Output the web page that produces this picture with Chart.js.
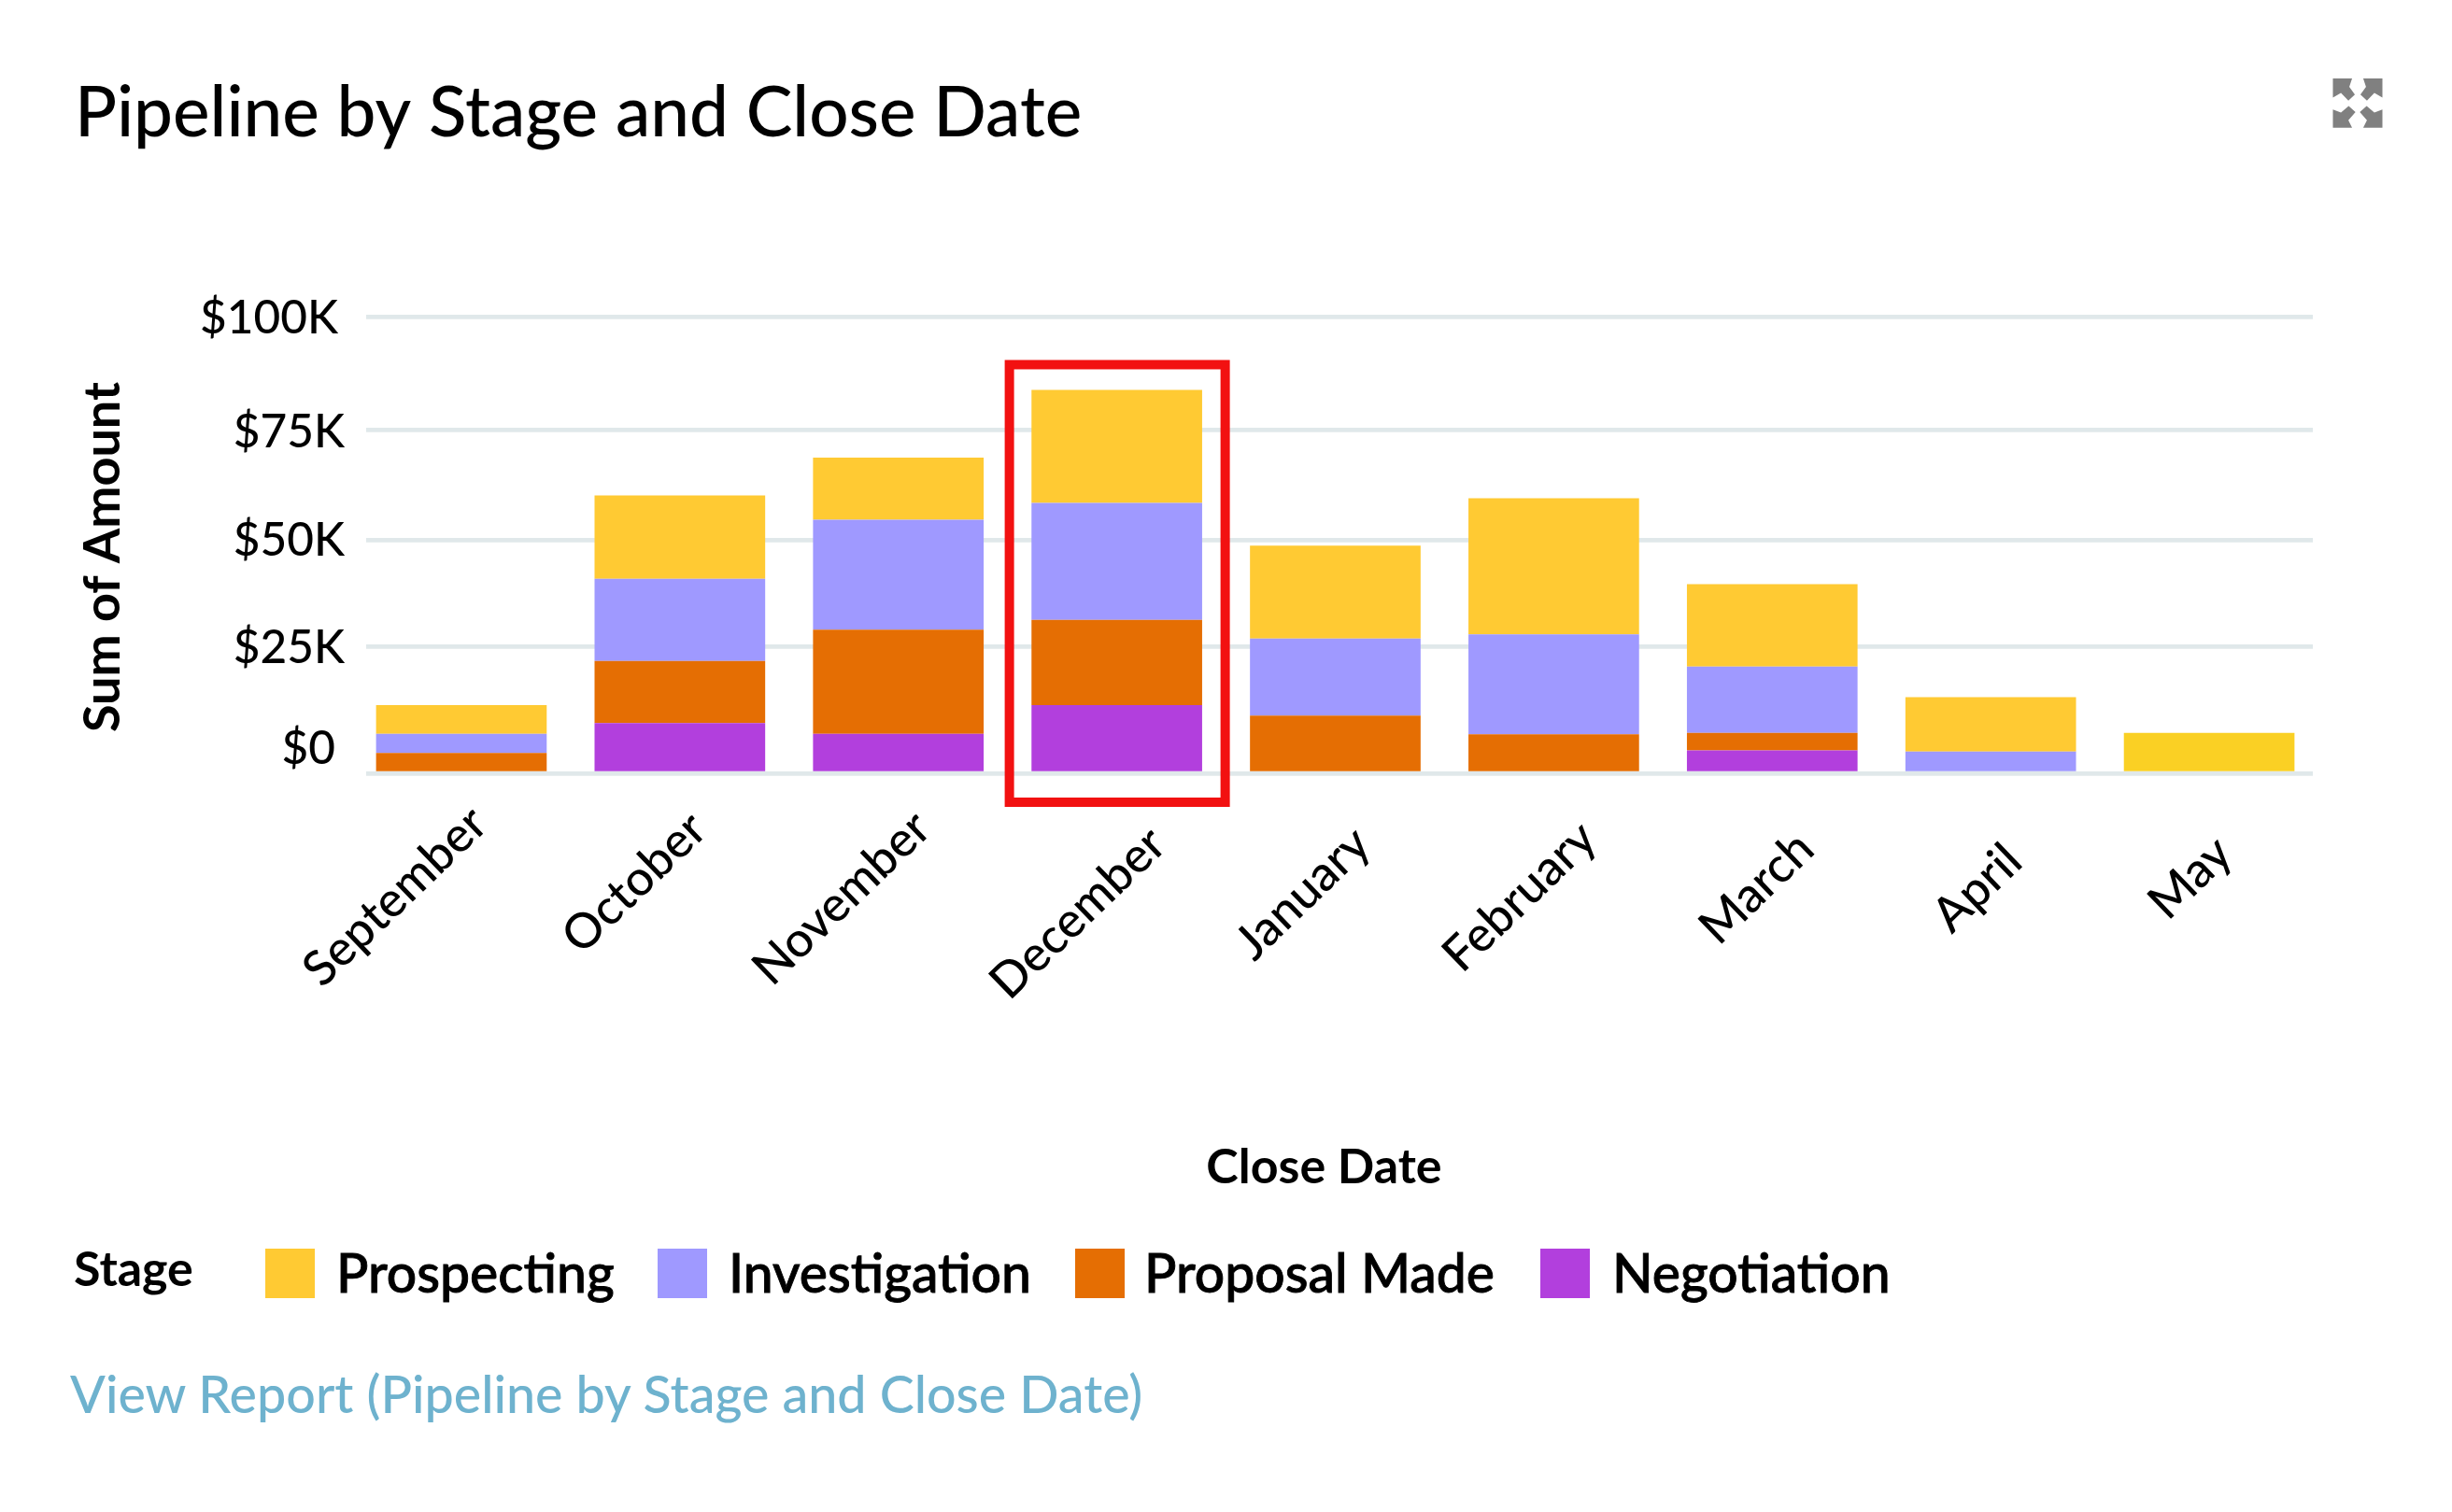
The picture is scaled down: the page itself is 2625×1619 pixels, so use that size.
<!DOCTYPE html>
<html>
<head>
<meta charset="utf-8">
<title>Pipeline by Stage and Close Date</title>
<script src="https://cdn.jsdelivr.net/npm/chart.js@4/dist/chart.umd.min.js"></script>
<style>
    html, body { margin: 0; padding: 0; background: #fff; }
    body { width: 2625px; height: 1619px; position: relative; overflow: hidden; font-family: Lato, sans-serif; color: #000; }
    canvas { position: absolute; left: 0; top: 0; }
    .stage { position: absolute; left: 79px; top: 1327px; font-size: 52px; font-weight: 700; line-height: 60px; }
    .caixa { position: absolute; top: 1337px; width: 53px; height: 53px; }
    .nome { position: absolute; top: 1329px; font-family: "Lato Medium", Lato, sans-serif; font-size: 57px; line-height: 66px; white-space: nowrap; -webkit-text-stroke: 0.9px #000; }
    .link { position: absolute; left: 75px; top: 1459px; font-family: "Lato Medium", Lato, sans-serif; font-size: 55.6px; line-height: 66px; color: #6eb2ce; white-space: nowrap; }
    svg { position: absolute; left: 2497px; top: 84px; width: 54px; height: 53px; }
</style>
</head>
<body>
<canvas id="grafico" width="2625" height="1619"></canvas>
<div class="stage">Stage</div>
<div id="legenda"></div>
<div class="link">View Report (Pipeline by Stage and Close Date)</div>
<svg viewBox="0 0 160 160" fill="#808080">
    <polygon points="0,0 62,0 53,27 71,52 50,72 26,47 0,62"/>
    <polygon points="160,0 98,0 107,27 89,52 110,72 134,47 160,62"/>
    <polygon points="0,100 26,110 51,89 73,109 50,135 62,159 0,159"/>
    <polygon points="160,100 134,110 109,89 87,109 110,135 98,159 160,159"/>
</svg>
<script>
const meses = ["September", "October", "November", "December", "January", "February", "March", "April", "May"];
const negotiation = [0, 9900, 7800, 13450, 0, 0, 4500, 0, 0];
const proposalMade = [4000, 12300, 21200, 17850, 11400, 7700, 3500, 0, 0];
const investigation = [3800, 18800, 25700, 27200, 15500, 20200, 13100, 4300, 0];
const prospecting = [5650, 19200, 14100, 25400, 21900, 31700, 18600, 10750, 8000];
const yTicks = [0, 25000, 50000, 75000, 100000];
const yTickLabels = ["$0", "$25K", "$50K", "$75K", "$100K"];

const estagios = ["Prospecting", "Investigation", "Proposal Made", "Negotiation"];
const cores = ["#ffca33", "#9f99ff", "#e56e03", "#b23fdd"];
const corMaio = "#fad024";
const mesDestacado = "December";

// layout, in page pixels
const gridEsquerda = 392;
const gridDireita = 2476;
const legendaCaixaX = [284, 704, 1151, 1649];
const legendaNomeX = [360, 780, 1225, 1726];

// the reference's y axis is not evenly spaced: share of the axis height at each tick
const yTickFracoes = [0, 0.2771, 0.5099, 0.7509, 1];
const ajusteY = [[-10, -26], [0, 2], [0, 0], [0, 2], [-7, 2]];
const ajusteX = [[-5, 5], [-4, 11], [2, 10], [20, 27], [5, 27], [13, 21], [12, 32], [1, 45], [-8, 37]];

function ajustarLabels(itens, ajustes) {
    itens.forEach((item, i) => {
        item.options.translation[0] += ajustes[i][0];
        item.options.translation[1] += ajustes[i][1];
    });
    return itens;
}

class EscalaReferencia extends Chart.LinearScale {
    static id = "referencia";
    static defaults = Chart.LinearScale.defaults;

    getPixelForValue(valor) {
        let i = 0;
        while (i < yTicks.length - 2 && valor > yTicks[i + 1]) {
            i++;
        }
        const t = (valor - yTicks[i]) / (yTicks[i + 1] - yTicks[i]);
        const fracao = yTickFracoes[i] + t * (yTickFracoes[i + 1] - yTickFracoes[i]);
        return this.bottom - fracao * (this.bottom - this.top);
    }

    _computeGridLineItems(area) {
        return super._computeGridLineItems({ ...area, left: gridEsquerda, right: gridDireita });
    }

    _computeLabelItems(area) {
        return ajustarLabels(super._computeLabelItems(area), ajusteY);
    }

    drawTitle() {
        this.ctx.save();
        this.ctx.translate(-2, 13);
        super.drawTitle();
        this.ctx.restore();
    }
}

class EscalaMeses extends Chart.CategoryScale {
    static id = "meses";
    static defaults = Chart.CategoryScale.defaults;

    _computeLabelItems(area) {
        return ajustarLabels(super._computeLabelItems(area), ajusteX);
    }

    drawTitle() {
        this.ctx.save();
        this.ctx.translate(-12, 0);
        super.drawTitle();
        this.ctx.restore();
    }
}
Chart.register(EscalaReferencia, EscalaMeses);

const destaque = {
    id: "destaque",
    afterDatasetsDraw(chart) {
        const barra = chart.getDatasetMeta(0).data[meses.indexOf(mesDestacado)];
        const base = chart.scales.y.getPixelForValue(0);
        const topo = chart.getDatasetMeta(3).data[meses.indexOf(mesDestacado)].y;
        const ctx = chart.ctx;
        ctx.save();
        ctx.strokeStyle = "#f21111";
        ctx.lineWidth = 10;
        ctx.strokeRect(barra.x - 115, topo - 27, 231, base - topo + 58);
        ctx.restore();
    }
};

function montarLegenda() {
    const legenda = document.getElementById("legenda");
    estagios.forEach((estagio, i) => {
        legenda.innerHTML += `
            <div class="caixa" style="left:${legendaCaixaX[i]}px;background:${cores[i]}"></div>
            <div class="nome" style="left:${legendaNomeX[i]}px">${estagio}</div>
        `;
    });
}

function montarGrafico() {
    const ctx = document.getElementById("grafico");

    new Chart(ctx, {
        type: "bar",
        data: {
            labels: meses,
            datasets: [
                { label: estagios[3], data: negotiation, backgroundColor: cores[3] },
                { label: estagios[2], data: proposalMade, backgroundColor: cores[2] },
                { label: estagios[1], data: investigation, backgroundColor: cores[1] },
                {
                    label: estagios[0],
                    data: prospecting,
                    backgroundColor: meses.map(mes => mes === "May" ? corMaio : cores[0])
                }
            ]
        },
        options: {
            responsive: false,
            animation: false,
            devicePixelRatio: 1,
            barPercentage: 0.781,
            categoryPercentage: 1,
            layout: {
                padding: { left: 80, top: 77, right: 143, bottom: 338 }
            },
            plugins: {
                legend: { display: false },
                tooltip: { enabled: false },
                title: {
                    display: true,
                    text: "Pipeline by Stage and Close Date",
                    align: "start",
                    color: "#000",
                    font: { family: "'Lato Medium', Lato", size: 74.6, weight: "normal", lineHeight: 1.2 },
                    padding: { top: 0, bottom: 172.5 }
                }
            },
            scales: {
                x: {
                    type: "meses",
                    stacked: true,
                    afterFit: scale => { scale.height = 453; },
                    grid: { display: false },
                    border: { display: false },
                    ticks: {
                        color: "#000",
                        font: { family: "'Lato Medium', Lato", size: 52 },
                        minRotation: 44,
                        maxRotation: 44,
                        labelOffset: 24,
                        padding: 10,
                        autoSkip: false
                    },
                    title: {
                        display: true,
                        text: "Close Date",
                        color: "#000",
                        font: { family: "Lato", size: 52, weight: "bold" },
                        padding: 0
                    }
                },
                y: {
                    type: "referencia",
                    stacked: true,
                    min: 0,
                    max: 100000,
                    afterFit: scale => { scale.width = 297; },
                    afterBuildTicks: scale => { scale.ticks = yTicks.map(value => ({ value })); },
                    grid: { color: "#e0e8ea", lineWidth: 4.7, drawTicks: false },
                    border: { display: false },
                    ticks: {
                        color: "#000",
                        font: { family: "'Lato Medium', Lato", size: 49.5 },
                        padding: 8,
                        autoSkip: false,
                        callback: (valor, i) => yTickLabels[i]
                    },
                    title: {
                        display: true,
                        text: "Sum of Amount",
                        color: "#000",
                        font: { family: "Lato", size: 54, weight: "bold" },
                        padding: 0
                    }
                }
            }
        },
        plugins: [destaque]
    });
}

montarLegenda();
montarGrafico();
</script>
</body>
</html>
